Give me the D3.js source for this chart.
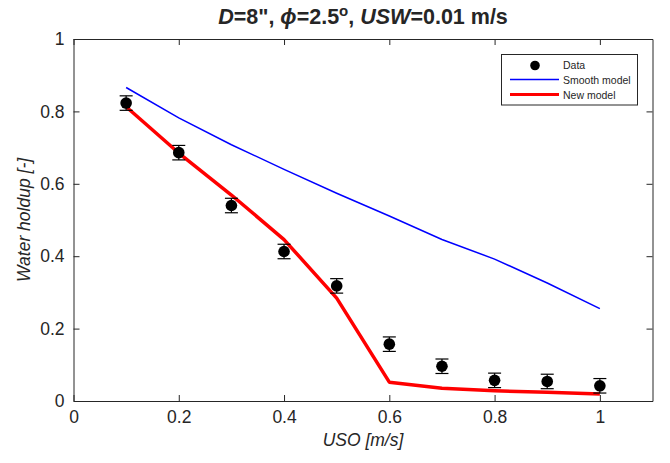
<!DOCTYPE html>
<html>
<head>
<meta charset="utf-8">
<script src="https://cdn.jsdelivr.net/npm/d3@7"></script>
<style>
  body { margin: 0; background: #fff; }
  text { font-family: "Liberation Sans", Arial, sans-serif; fill: #262626; }
</style>
</head>
<body>
<script>
var width = 670, height = 463;

// data
var uso = [0.1, 0.2, 0.3, 0.4, 0.5, 0.6, 0.7, 0.8, 0.9, 1.0];
var dataHoldup = [0.823, 0.686, 0.540, 0.413, 0.318, 0.157, 0.096, 0.057, 0.054, 0.042];
var dataErr = [0.02, 0.02, 0.02, 0.02, 0.02, 0.02, 0.02, 0.02, 0.02, 0.02];
var smoothModel = [0.866, 0.782, 0.708, 0.640, 0.574, 0.511, 0.446, 0.392, 0.326, 0.255];
var newModel = [0.813, 0.685, 0.569, 0.446, 0.284, 0.052, 0.035, 0.028, 0.024, 0.019];
var xTicks = [0, 0.2, 0.4, 0.6, 0.8, 1];
var yTicks = [0, 0.2, 0.4, 0.6, 0.8, 1];

var pLeft = 73.5, pRight = 652.5, pTop = 39, pBottom = 401;

var x = d3.scaleLinear().domain([0, 1.1]).range([pLeft, pRight]),
    y = d3.scaleLinear().domain([0, 1]).range([pBottom, pTop]);

var svg = d3.select("body").append("svg").attr("width", width).attr("height", height);

// axes box with inward ticks
var fmt = function(d){ return d3.format("~g")(d); };
var axB = svg.append("g").attr("transform", "translate(0," + pBottom + ")")
  .call(d3.axisBottom(x).tickValues(xTicks).tickFormat(fmt).tickSizeInner(-6).tickSizeOuter(0).tickPadding(10));
var axT = svg.append("g").attr("transform", "translate(0," + pTop + ")")
  .call(d3.axisTop(x).tickValues(xTicks).tickFormat("").tickSizeInner(-6).tickSizeOuter(0));
var axL = svg.append("g").attr("transform", "translate(" + pLeft + ",0)")
  .call(d3.axisLeft(y).tickValues(yTicks).tickFormat(fmt).tickSizeInner(-6).tickSizeOuter(0).tickPadding(9));
var axR = svg.append("g").attr("transform", "translate(" + pRight + ",0)")
  .call(d3.axisRight(y).tickValues(yTicks).tickFormat("").tickSizeInner(-6).tickSizeOuter(0));

[axB, axT, axL, axR].forEach(function(a){
  a.selectAll("path").attr("stroke", "#262626").attr("stroke-width", 1);
  a.selectAll("line").attr("stroke", "#262626");
  a.selectAll("text").attr("font-size", 17.5).attr("fill", "#262626")
    .style("font-family", "Liberation Sans, Arial, sans-serif");
});

// model lines
var line = function(vals){
  return d3.line().x(function(d, i){ return x(uso[i]); }).y(function(d){ return y(d); })(vals);
};
svg.append("path").attr("d", line(smoothModel)).attr("fill", "none")
  .attr("stroke", "#0000ff").attr("stroke-width", 1.5);
svg.append("path").attr("d", line(newModel)).attr("fill", "none")
  .attr("stroke", "#ff0000").attr("stroke-width", 3.5).attr("stroke-linejoin", "round");

// data with error bars
var pts = svg.append("g").selectAll("g").data(uso).enter().append("g");
pts.append("line")
  .attr("x1", function(d){ return x(d); }).attr("x2", function(d){ return x(d); })
  .attr("y1", function(d, i){ return y(dataHoldup[i] + dataErr[i]); })
  .attr("y2", function(d, i){ return y(dataHoldup[i] - dataErr[i]); })
  .attr("stroke", "#000").attr("stroke-width", 1.2);
[1, -1].forEach(function(s){
  pts.append("line")
    .attr("x1", function(d){ return x(d) - 6.5; }).attr("x2", function(d){ return x(d) + 6.5; })
    .attr("y1", function(d, i){ return y(dataHoldup[i] + s * dataErr[i]); })
    .attr("y2", function(d, i){ return y(dataHoldup[i] + s * dataErr[i]); })
    .attr("stroke", "#000").attr("stroke-width", 1.2);
});
pts.append("circle")
  .attr("cx", function(d){ return x(d); })
  .attr("cy", function(d, i){ return y(dataHoldup[i]); })
  .attr("r", 5.8).attr("fill", "#000");

// title
var title = svg.append("text").attr("x", (pLeft + pRight) / 2).attr("y", 24)
  .attr("text-anchor", "middle").attr("font-size", 21.5).attr("font-weight", "bold");
title.append("tspan").attr("font-style", "italic").text("D");
title.append("tspan").text("=8\", ");
title.append("tspan").attr("font-style", "italic").text("\u03d5");
title.append("tspan").text("=2.5");
title.append("tspan").attr("font-size", 15).attr("dy", -8).text("o");
title.append("tspan").attr("dy", 8).text(", ");
title.append("tspan").attr("font-style", "italic").text("USW");
title.append("tspan").text("=0.01 m/s");

// axis labels
svg.append("text").attr("x", (pLeft + pRight) / 2).attr("y", 446)
  .attr("text-anchor", "middle").attr("font-size", 17.5).attr("font-style", "italic")
  .text("USO [m/s]");
svg.append("text").attr("transform", "translate(30," + (pTop + pBottom) / 2 + ") rotate(-90)")
  .attr("text-anchor", "middle").attr("font-size", 17.5).attr("font-style", "italic")
  .text("Water holdup [-]");

// legend
var lg = svg.append("g");
lg.append("rect").attr("x", 501.5).attr("y", 54.5).attr("width", 136).attr("height", 50.5)
  .attr("fill", "#fff").attr("stroke", "#262626").attr("stroke-width", 1);
var items = [
  {label: "Data", type: "dot", yy: 65.5},
  {label: "Smooth model", type: "blue", yy: 80.5},
  {label: "New model", type: "red", yy: 95.5}
];
items.forEach(function(it){
  if (it.type === "dot") {
    lg.append("circle").attr("cx", 535).attr("cy", it.yy).attr("r", 4.8).attr("fill", "#000");
  } else {
    lg.append("line").attr("x1", 510).attr("x2", 559).attr("y1", it.yy - 1).attr("y2", it.yy - 1)
      .attr("stroke", it.type === "blue" ? "#0000ff" : "#ff0000")
      .attr("stroke-width", it.type === "blue" ? 1.5 : 3);
  }
  lg.append("text").attr("x", 563).attr("y", it.yy + 3.7).attr("font-size", 10.5).text(it.label);
});
</script>
</body>
</html>
